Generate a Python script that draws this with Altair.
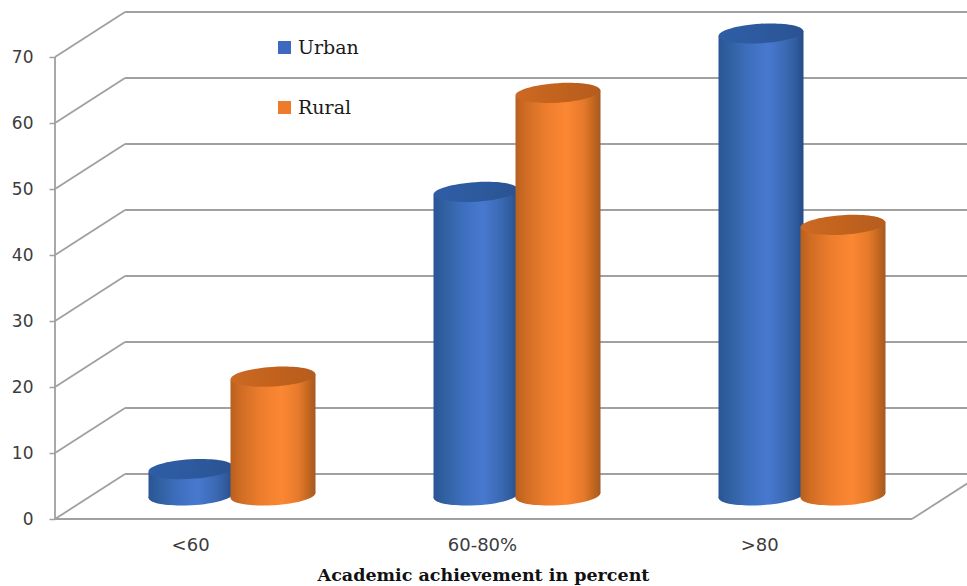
import math
import altair as alt
import pandas as pd

# Survey values
categories = ["<60", "60-80%", ">80"]
urban = [4, 46, 70]
rural = [18, 61, 41]
grid_levels = [0, 10, 20, 30, 40, 50, 60, 70]

# Scale set-up: one x unit is one category step, y is in percent points
PLOT_W, PLOT_H = 912, 519
STEP_PX, TEN_PX = 285, 66
X_MIN = 1 - 177 / STEP_PX
X_MAX = X_MIN + PLOT_W / STEP_PX
Y_MAX = PLOT_H / TEN_PX * 10
DEPTH_X = 70 / STEP_PX
DEPTH_Y = 45 / TEN_PX * 10
FLOOR_END = X_MIN + (912 - 55) / STEP_PX
BAR_W = 85 / STEP_PX
OVERLAP = 1.5 / STEP_PX
LIFT = DEPTH_Y / 2 + 0.15
TILT_DEG = 3.5

x_scale = alt.Scale(domain=[X_MIN, X_MAX], nice=False, zero=False)
y_scale = alt.Scale(domain=[0, Y_MAX], nice=False, zero=False)
GRID = "#a0a0a0"

# The same axis definitions go on every layer so they merge into one axis each
label_at = [0.853, 1.877, 2.85]
x_axis = alt.Axis(
    values=label_at, domain=False, ticks=False, grid=False,
    labelExpr=f"datum.value < 1.5 ? '{categories[0]}' : datum.value < 2.5 ? '{categories[1]}' : '{categories[2]}'",
    labelFont="DejaVu Sans", labelFontSize=18, labelColor="#3c3c3c", labelPadding=17,
    title="Academic achievement in percent", titleFont="DejaVu Serif", titleFontSize=17.5,
    titleFontWeight="bold", titleColor="#111111", titleX=428, titleY=61,
    titleAnchor="middle", titleBaseline="alphabetic",
)
y_axis = alt.Axis(
    values=grid_levels, domain=False, grid=False, tickSize=6, tickColor=GRID, tickWidth=1.5,
    labelFont="DejaVu Sans", labelFontSize=17, labelColor="#3c3c3c", labelPadding=16,
    title=None,
)


def ellipse_path(minor=0.23):
    """Tilted ellipse in the unit box, for a custom point shape."""
    k = 0.5523
    t = math.radians(-TILT_DEG)
    pts = [(1, 0), (1, k * minor), (k, minor), (0, minor), (-k, minor), (-1, k * minor), (-1, 0),
           (-1, -k * minor), (-k, -minor), (0, -minor), (k, -minor), (1, -k * minor), (1, 0)]
    r = [(x * math.cos(t) - y * math.sin(t), x * math.sin(t) + y * math.cos(t)) for x, y in pts]
    f = lambda p: f"{p[0]:.4f},{p[1]:.4f}"
    d = "M" + f(r[0])
    for i in range(1, 13, 3):
        d += " C" + " ".join(f(p) for p in r[i:i + 3])
    return d + " Z"


def h_gradient(stops):
    return {
        "gradient": "linear", "x1": 0, "x2": 1, "y1": 0, "y2": 0,
        "stops": [{"offset": o, "color": c} for o, c in stops],
    }


BLUE_BODY = h_gradient([(0, "#2a5496"), (0.12, "#30609f"), (0.35, "#3d6fbe"), (0.58, "#4879d0"),
                        (0.8, "#3a68b2"), (0.92, "#2f5a9c"), (1, "#274a84")])
BLUE_TOP = h_gradient([(0, "#2f5da6"), (0.5, "#2d5a9e"), (1, "#2a5292")])
ORANGE_BODY = h_gradient([(0, "#b9601f"), (0.12, "#d06c24"), (0.35, "#ec7d2d"), (0.6, "#fc8733"),
                          (0.8, "#e67a2b"), (0.92, "#c2661f"), (1, "#a35a24")])
ORANGE_TOP = h_gradient([(0, "#cc6a24"), (0.5, "#c2621d"), (1, "#b55d1e")])

SHAPE = ellipse_path()
frame = pd.DataFrame({"level": grid_levels})
frame["y_back"] = frame["level"] + DEPTH_Y
frame["x_front"] = X_MIN
frame["x_back"] = X_MIN + DEPTH_X
frame["x_end"] = X_MAX

X = lambda f: alt.X(f, type="quantitative", scale=x_scale, axis=x_axis)
Y = lambda f: alt.Y(f, type="quantitative", scale=y_scale, axis=y_axis)

rule = alt.Chart(frame).mark_rule(color=GRID, strokeWidth=1.8)
side_walls = rule.encode(x=X("x_front"), x2="x_back", y=Y("level"), y2="y_back")
back_walls = rule.encode(x=X("x_back"), x2="x_end", y=Y("y_back"), y2="y_back")

# Left upright, front floor edge and the receding floor edge on the right
edges = pd.DataFrame({
    "x": [X_MIN, X_MIN, FLOOR_END],
    "x2": [X_MIN, FLOOR_END, FLOOR_END + DEPTH_X],
    "y": [0, 0, 0],
    "y2": [grid_levels[-1], 0, DEPTH_Y],
})
frame_edges = alt.Chart(edges).mark_rule(color=GRID, strokeWidth=1.8).encode(
    x=X("x"), x2="x2", y=Y("y"), y2="y2"
)

# Cylinders: category centre sits half the depth into the floor
data = pd.DataFrame({"category": categories, "Urban": urban, "Rural": rural})
data["index"] = [1, 2, 3]
data["base"] = LIFT


def cylinder(field, x0, x1, body, top):
    d = data.copy()
    d["x0"] = d["index"] + x0
    d["x1"] = d["index"] + x1
    d["xc"] = (d["x0"] + d["x1"]) / 2
    d["top"] = d[field] + LIFT
    size = (BAR_W * STEP_PX) ** 2

    # The wall is sheared by the ellipse tilt so its ends meet the ellipse tips
    shear = math.sin(math.radians(TILT_DEG)) * (BAR_W * STEP_PX / 2) / TEN_PX * 10
    left = d.assign(x=d["x0"], low=d["base"] - shear, high=d["top"] - shear)
    right = d.assign(x=d["x1"], low=d["base"] + shear, high=d["top"] + shear)
    sides = pd.concat([left, right]).sort_values(["index", "x"])

    src = alt.Chart(d)
    foot = src.mark_point(shape=SHAPE, size=size, filled=True, fill=body, opacity=1, strokeWidth=0).encode(
        x=X("xc"), y=Y("base"))
    wall = alt.Chart(sides).mark_area(fill=body, orient="vertical").encode(
        x=X("x"), y=Y("low"), y2="high", detail="category:N")
    cap = src.mark_point(shape=SHAPE, size=size, filled=True, fill=top, opacity=1, strokeWidth=0).encode(
        x=X("xc"), y=Y("top"))
    return foot + wall + cap


urban_bars = cylinder("Urban", -BAR_W + OVERLAP, OVERLAP, BLUE_BODY, BLUE_TOP)
rural_bars = cylinder("Rural", -OVERLAP, BAR_W - OVERLAP, ORANGE_BODY, ORANGE_TOP)

# Legend driven by a hidden series layer
keys = pd.DataFrame({"series": ["Urban", "Rural"], "x": [1, 1], "y": [1, 1]})
legend_layer = alt.Chart(keys).mark_point(shape="square", filled=True, size=0, opacity=1).encode(
    x=X("x"), y=Y("y"),
    color=alt.Color("series:N", scale=alt.Scale(domain=["Urban", "Rural"], range=["#3f68c0", "#ee7b2c"]),
                    legend=alt.Legend(
                        title=None, orient="none", legendX=220, legendY=38, symbolType="square",
                        symbolSize=169, symbolStrokeWidth=0, symbolOpacity=1, labelFont="DejaVu Serif",
                        labelFontSize=19, labelColor="#1a1a1a", labelOffset=4, rowPadding=40,
                        labelLimit=200,
                    )),
)

chart = alt.layer(
    side_walls, back_walls, frame_edges, urban_bars, rural_bars, legend_layer
).properties(
    width=PLOT_W, height=PLOT_H, background="white",
    autosize=alt.AutoSizeParams(type="none"),
    padding={"left": 55, "top": 0, "right": 0, "bottom": 67},
).configure_view(stroke=None)

chart.save("out.html", embed_options={"renderer": "svg", "actions": False})
